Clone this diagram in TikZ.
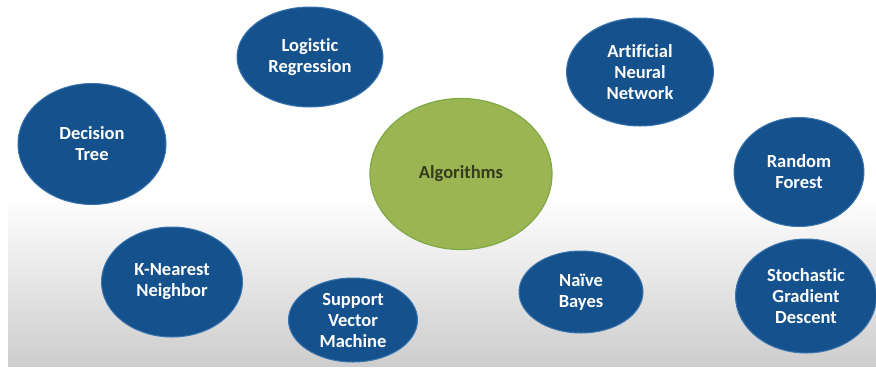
\documentclass[tikz,border=0pt]{standalone}
\usepackage{fontspec}
\setmainfont[Ligatures=NoCommon]{Carlito}
\usetikzlibrary{shapes.geometric}
\definecolor{blobblue}{HTML}{15518C}
\definecolor{blobedge}{HTML}{3A74AE}
\definecolor{blobgreen}{HTML}{9BB552}
\definecolor{greenedge}{HTML}{7FA848}
\definecolor{greentext}{HTML}{333D1C}
\definecolor{bgbottom}{HTML}{CDCDCD}
\tikzset{
  algo/.style={ellipse, fill=blobblue, draw=blobedge, line width=1pt, text=white,
    font=\fontsize{18.5}{21}\selectfont\bfseries, align=center, inner sep=0pt},
  hub/.style={ellipse, fill=blobgreen, draw=greenedge, line width=1.2pt, text=greentext,
    font=\fontsize{18.5}{21}\selectfont\bfseries, align=center, inner sep=0pt},
}
\begin{document}
\begin{tikzpicture}[x=1pt,y=-1pt]
\useasboundingbox (0,0) rectangle (876,368);
\fill[white] (0,0) rectangle (876,368);
\shade[top color=white, bottom color=bgbottom] (8,195) rectangle (876,366);
\node[algo, minimum width=146, minimum height=100] (lr) at (310,57) {Logistic\\Regression};
\node[algo, minimum width=148, minimum height=121] (dt) at (92,144) {Decision\\Tree};
\node[algo, minimum width=141, minimum height=110] (knn) at (172,282) {K-Nearest\\Neighbor};
\node[algo, minimum width=129, minimum height=84] (svm) at (353,320) {Support\\Vector\\Machine};
\node[hub, minimum width=182, minimum height=151] (alg) at (461,174) {Algorithms};
\node[algo, minimum width=147, minimum height=108] (ann) at (640,72) {Artificial\\Neural\\Network};
\node[algo, minimum width=130, minimum height=109] (rf) at (799,172) {Random\\Forest};
\node[algo, minimum width=124, minimum height=82] (nb) at (581,292) {Naïve\\Bayes};
\node[algo, minimum width=141, minimum height=114] (sgd) at (806,296) {Stochastic\\Gradient\\Descent};
\end{tikzpicture}
\end{document}
